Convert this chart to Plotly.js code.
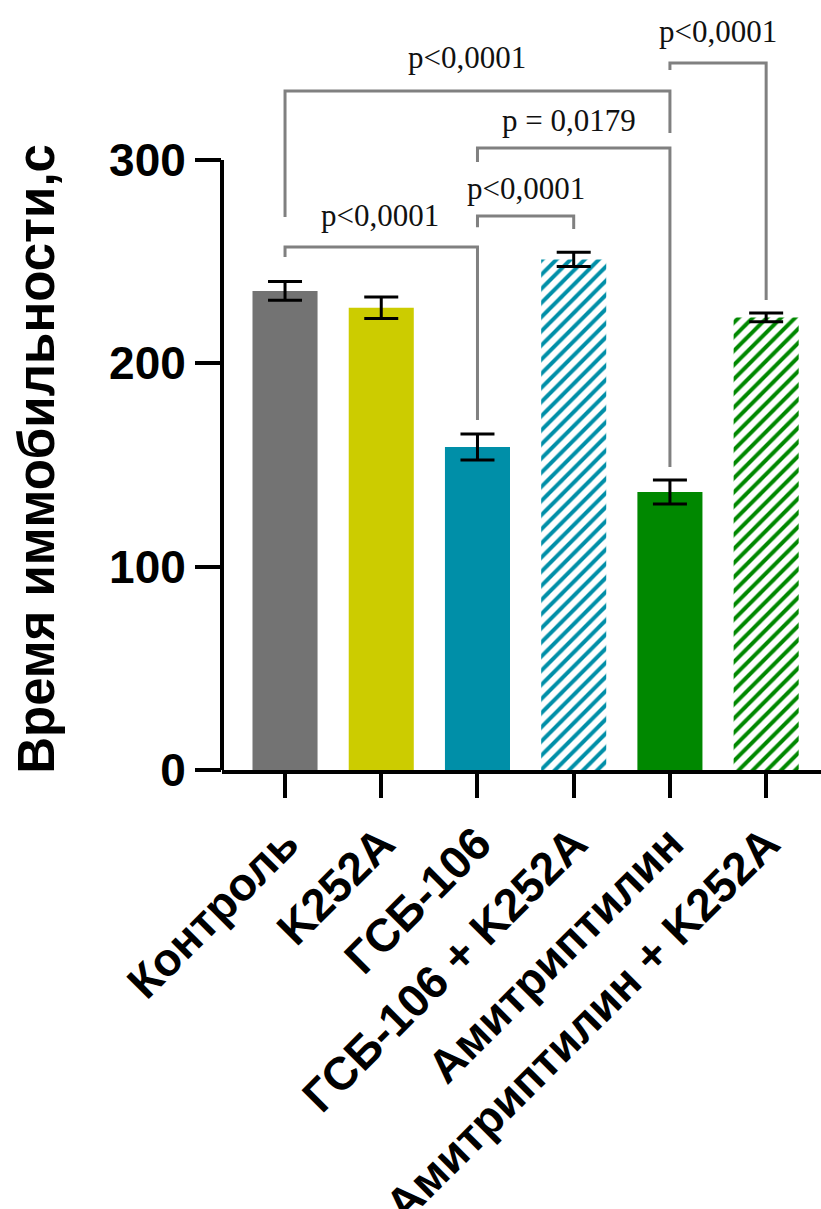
<!DOCTYPE html>
<html>
<head>
<meta charset="utf-8">
<script src="https://cdn.plot.ly/plotly-3.0.1.min.js"></script>
<style>html,body{margin:0;padding:0;background:#fff;}</style>
</head>
<body>
<div id="chart" style="width:821px;height:1209px;"></div>
<script>
// ---- data ----
const categories = ["Контроль", "K252A", "ГСБ-106", "ГСБ-106 + K252A", "Амитриптилин", "Амитриптилин + K252A"];
const means = [235.6, 227.3, 158.9, 251.1, 136.7, 222.6];
const sem = [4.6, 5.3, 6.4, 3.5, 5.9, 2.1];
const barColors = ["#737373", "#CCCC00", "#008FA8", "#008FA8", "#008800", "#008800"];
const hatched = [false, false, false, true, false, true];
const yTicks = [0, 100, 200, 300];
const yTitle = "Время иммобильности,с";

// significance brackets (category indices, heights in data units)
const brLeft = [0, 2, 2, 0, 4];
const brRight = [2, 3, 4, 4, 5];
const brTop = [257.2, 272.5, 305.9, 333.9, 347.7];
const brLeftEnd = [252.3, 266.9, 299.0, 272.0, 344.3];
const brRightEnd = [172.1, 266.1, 149.0, 313.3, 231.2];
const pLabels = ["p<0,0001", "p<0,0001", "p = 0,0179", "p<0,0001", "p<0,0001"];
const pLabelX = [0.99, 2.5, 2.95, 1.89, 4.5];
const pLabelY = [272.9, 286.2, 319.2, 350.2, 363.0];

// ---- build ----
const xIdx = categories.map((c, i) => i);
const trace = {
  type: "bar",
  x: xIdx,
  y: means,
  width: 0.676,
  marker: {
    color: barColors,
    line: {width: 0},
    pattern: {
      shape: hatched.map(h => h ? "/" : ""),
      fgcolor: "#ffffff",
      bgcolor: barColors,
      size: 10,
      solidity: 0.4,
      fillmode: "replace"
    }
  },
  error_y: {type: "data", array: sem, visible: true, color: "#000", thickness: 3, width: 17},
  hoverinfo: "skip"
};

const shapes = [];
for (let i = 0; i < brLeft.length; i++) {
  shapes.push({
    type: "path", xref: "x", yref: "y", layer: "above",
    path: `M ${brLeft[i]},${brLeftEnd[i]} L ${brLeft[i]},${brTop[i]} L ${brRight[i]},${brTop[i]} L ${brRight[i]},${brRightEnd[i]}`,
    line: {color: "#808080", width: 3}
  });
}
// y axis line 0..300
shapes.push({type: "line", xref: "paper", yref: "y", x0: 0, x1: 0, y0: 0, y1: yTicks[yTicks.length - 1],
  line: {color: "#000", width: 4}, layer: "above"});

const annotations = pLabels.map((t, i) => ({
  text: t, x: pLabelX[i], y: pLabelY[i], xref: "x", yref: "y",
  showarrow: false, xanchor: "center", yanchor: "middle",
  font: {family: "Liberation Serif, Times New Roman, serif", size: 31, color: "#111"}
}));
annotations.push({
  text: yTitle, textangle: -90, xref: "paper", yref: "y", x: -0.309, y: 153,
  xanchor: "center", yanchor: "middle", showarrow: false,
  font: {family: "Liberation Sans, Arial, sans-serif", size: 51, color: "#000", weight: "bold"}
});

const layout = {
  width: 821, height: 1209,
  margin: {l: 222, r: 0, t: 0, b: 439},
  paper_bgcolor: "#fff", plot_bgcolor: "#fff",
  showlegend: false,
  font: {family: "Liberation Sans, Arial, sans-serif", color: "#000"},
  xaxis: {
    range: [-0.655, 5.57],
    tickmode: "array", tickvals: xIdx, ticktext: categories,
    tickangle: -45,
    tickfont: {size: 46, weight: "bold", color: "#000"},
    ticks: "outside", ticklen: 24, tickwidth: 4, tickcolor: "#000",
    showline: true, linewidth: 4, linecolor: "#000",
    showgrid: false, zeroline: false, fixedrange: true
  },
  yaxis: {
    range: [0, 378.7],
    tickmode: "array", tickvals: yTicks, ticktext: yTicks.map(String),
    tickfont: {size: 46, weight: "bold", color: "#000"},
    ticks: "outside", ticklen: 26, tickwidth: 4, tickcolor: "#000",
    showline: false, showgrid: false, zeroline: false, fixedrange: true
  },
  shapes: shapes,
  annotations: annotations,
  bargap: 0.3
};

Plotly.newPlot("chart", [trace], layout, {displayModeBar: false, staticPlot: true});
</script>
</body>
</html>
